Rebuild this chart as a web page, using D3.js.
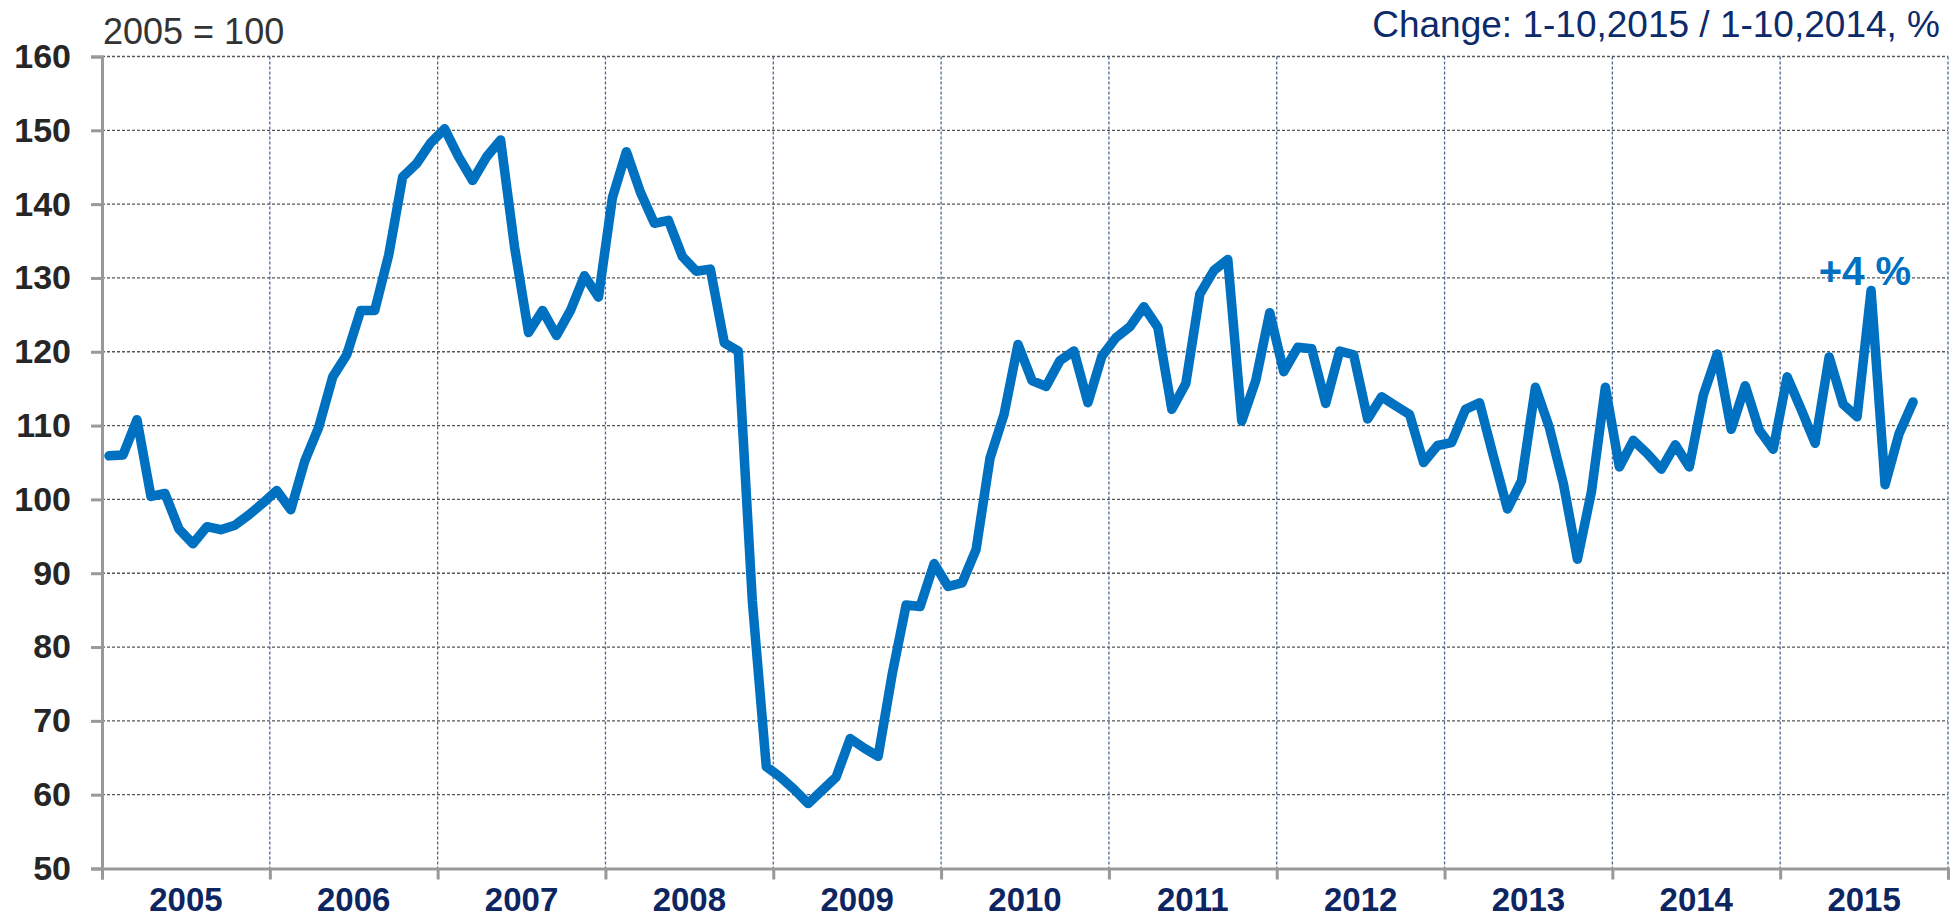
<!DOCTYPE html>
<html>
<head>
<meta charset="utf-8">
<script src="https://cdn.jsdelivr.net/npm/d3@7"></script>
<style>
    body { margin: 0; background: #fff; }
    svg text { font-family: "Liberation Sans", Arial, sans-serif; }
</style>
</head>
<body>
<svg id="chart"></svg>
<script>
// Monthly index, Jan 2005 .. Oct 2015 (2005 = 100)
const startYear = 2005;
const yearLabels = ["2005", "2006", "2007", "2008", "2009", "2010", "2011", "2012", "2013", "2014", "2015"];
const yTicks = [50, 60, 70, 80, 90, 100, 110, 120, 130, 140, 150, 160];
const indexValues = [
    105.9, 106.0, 110.8, 100.4, 100.8, 96.0, 94.0, 96.3, 95.9, 96.5, 97.9, 99.5,
    101.2, 98.6, 105.2, 109.8, 116.6, 119.6, 125.6, 125.6, 133.1, 143.7, 145.5, 148.3,
    150.2, 146.4, 143.2, 146.4, 148.7, 134.2, 122.6, 125.6, 122.2, 125.6, 130.3, 127.4,
    140.9, 147.1, 141.6, 137.4, 137.8, 132.9, 130.9, 131.2, 121.2, 120.1, 86.3, 63.8,
    62.4, 60.7, 58.8, 60.6, 62.4, 67.6, 66.3, 65.2, 76.3, 85.7, 85.5, 91.3,
    88.2, 88.7, 93.2, 105.6, 111.5, 121.0, 116.1, 115.3, 118.8, 120.1, 113.1, 119.4,
    121.9, 123.4, 126.1, 123.3, 112.2, 115.7, 127.8, 131.0, 132.5, 110.6, 116.1, 125.3,
    117.3, 120.6, 120.4, 113.0, 120.1, 119.6, 110.9, 113.9, 112.7, 111.5, 105.0, 107.3,
    107.7, 112.2, 113.1, 105.8, 98.7, 102.5, 115.2, 109.7, 102.1, 91.9, 101.0, 115.2,
    104.4, 108.0, 106.2, 104.1, 107.4, 104.4, 114.1, 119.7, 109.5, 115.4, 109.4, 106.8,
    116.6, 112.2, 107.6, 119.3, 112.9, 111.2, 128.3, 102.0, 108.9, 113.2
];
const unitLabel = "2005 = 100";
const changeLabel = "Change: 1-10,2015 / 1-10,2014, %";
const changeValue = "+4 %";

window.onload = function(e){
    drawChart();
};

function drawChart(){
    const width = 1960, height = 917;
    const margin = {left: 102, right: 12, top: 56.5, bottom: 48.5};
    const svg = d3.select("#chart").attr("width", width).attr("height", height);

    const months = yearLabels.length * 12;
    let x = d3.scaleLinear().domain([0, months]).range([margin.left, width - margin.right]);
    let y = d3.scaleLinear().domain([50, 160]).range([height - margin.bottom, margin.top]);

    //Horizontal dotted grid
    svg.append("g")
        .selectAll("line")
        .data(yTicks.slice(1))
        .enter().append("line")
            .attr("x1", x(0)).attr("x2", x(months))
            .attr("y1", d=>y(d)).attr("y2", d=>y(d))
            .attr("stroke", "#555").attr("stroke-width", 1.3)
            .attr("stroke-dasharray", "3,2");

    //Vertical dotted year dividers
    const yearEdges = d3.range(12, months + 1, 12);
    svg.append("g")
        .selectAll("line")
        .data(yearEdges)
        .enter().append("line")
            .attr("x1", d=>x(d)).attr("x2", d=>x(d))
            .attr("y1", y(160)).attr("y2", y(50))
            .attr("stroke", "#4d6690").attr("stroke-width", 1.3)
            .attr("stroke-dasharray", "3,2");

    //Y axis
    let yAxis = d3.axisLeft(y).tickValues(yTicks).tickSize(11).tickPadding(20);
    let gy = svg.append("g").attr("transform", `translate(${x(0)},0)`).call(yAxis);
    gy.select(".domain").attr("stroke", "#999").attr("stroke-width", 3);
    gy.selectAll(".tick line").attr("stroke", "#999").attr("stroke-width", 3);
    gy.selectAll("text")
        .attr("font-size", 34).attr("font-weight", "bold")
        .attr("fill", "#262626").attr("font-family", "Liberation Sans, Arial, sans-serif");

    //X axis with year ticks between years, labels centered in each year
    let xAxis = d3.axisBottom(x).tickValues(d3.range(0, months + 1, 12)).tickSize(11).tickFormat("");
    let gx = svg.append("g").attr("transform", `translate(0,${y(50)})`).call(xAxis);
    gx.select(".domain").attr("stroke", "#999").attr("stroke-width", 3);
    gx.selectAll(".tick line").attr("stroke", "#999").attr("stroke-width", 3);

    svg.append("g")
        .selectAll("text")
        .data(yearLabels)
        .enter().append("text")
            .attr("x", (d,i)=>x(i*12 + 6))
            .attr("y", y(50) + 42)
            .attr("text-anchor", "middle")
            .attr("font-size", 33).attr("font-weight", "bold")
            .attr("fill", "#0d2560")
            .text(d=>d);

    //Index line, points at month centers
    let line = d3.line()
        .x((d,i)=>x(i + 0.5))
        .y(d=>y(d));
    svg.append("path")
        .datum(indexValues)
        .attr("d", line)
        .attr("fill", "none")
        .attr("stroke", "#0070c0")
        .attr("stroke-width", 9.5)
        .attr("stroke-linejoin", "round")
        .attr("stroke-linecap", "round");

    //Texts
    svg.append("text")
        .attr("x", x(0) + 1).attr("y", 44)
        .attr("font-size", 36).attr("fill", "#333")
        .text(unitLabel);
    svg.append("text")
        .attr("x", 1940).attr("y", 37)
        .attr("text-anchor", "end")
        .attr("font-size", 37).attr("fill", "#0d2a6a")
        .text(changeLabel);
    svg.append("text")
        .attr("x", 1865).attr("y", 285)
        .attr("text-anchor", "middle")
        .attr("font-size", 40).attr("font-weight", "bold")
        .attr("fill", "#0070c0")
        .text(changeValue);
}
</script>
</body>
</html>
